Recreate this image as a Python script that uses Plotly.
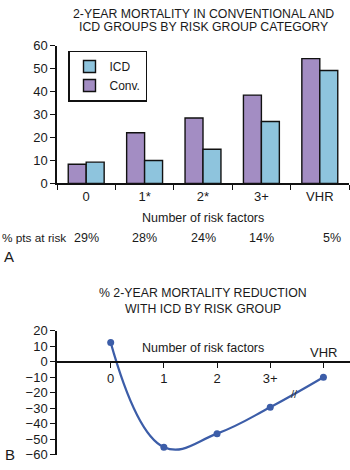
import plotly.graph_objects as go

W, H = 350, 470
FONT = "Liberation Sans, Arial, sans-serif"

# ---- Panel A data ----
categories = ["0", "1*", "2*", "3+", "VHR"]
conv_values = [8.4, 22.1, 28.5, 38.5, 54.4]
icd_values = [9.3, 10.0, 14.9, 27.0, 49.2]
pct_at_risk = ["29%", "28%", "24%", "14%", "5%"]

# ---- Panel B data ----
risk_x = [0, 1, 2, 3, 4]
risk_labels = ["0", "1", "2", "3+", "VHR"]
reduction = [12.3, -55.0, -46.3, -29.3, -10.0]

PURPLE = "#A38DC3"
BLUE = "#8EC4DD"
LINE = "#3C5DA8"
TXT = "#1a1a1a"


def py(p):
    return 1 - p / H


def px(p):
    return p / W


fig = go.Figure()

fig.add_trace(go.Bar(
    x=categories, y=conv_values, name="Conv.",
    marker=dict(color=PURPLE, line=dict(color="#111", width=1.4)),
    xaxis="x", yaxis="y",
))
fig.add_trace(go.Bar(
    x=categories, y=icd_values, name="ICD",
    marker=dict(color=BLUE, line=dict(color="#111", width=1.4)),
    xaxis="x", yaxis="y",
))

fig.add_trace(go.Scatter(
    x=risk_x, y=reduction, mode="lines+markers",
    line=dict(color=LINE, width=2.2, shape="spline", smoothing=1.2),
    marker=dict(color=LINE, size=7),
    showlegend=False, xaxis="x2", yaxis="y2",
))

axis_font = dict(family=FONT, size=13, color=TXT)

fig.update_layout(
    width=W, height=H,
    margin=dict(l=0, r=0, t=0, b=0),
    paper_bgcolor="white", plot_bgcolor="white",
    font=dict(family=FONT, size=13, color=TXT),
    barmode="group", bargap=0.385, bargroupgap=0,
    showlegend=True,
    legend=dict(
        x=px(68), y=py(45), xanchor="left", yanchor="top",
        bordercolor="#111", borderwidth=1.5,
        traceorder="reversed",
        font=dict(family=FONT, size=12, color=TXT),
        itemwidth=30, tracegroupgap=0,
    ),
    xaxis=dict(
        domain=[px(57), px(349)], anchor="y",
        type="category", range=[-0.5, 4.5],
        showline=True, linecolor="#111", linewidth=1.5,
        ticks="outside", ticklen=5, tickcolor="#111", tickwidth=1,
        tickson="boundaries",
        showgrid=False, tickfont=axis_font,
    ),
    yaxis=dict(
        domain=[py(182.3), py(40)], anchor="x",
        range=[0, 60], tickvals=[0, 10, 20, 30, 40, 50, 60],
        showline=True, linecolor="#111", linewidth=1.5,
        ticks="outside", ticklen=5, tickcolor="#111", tickwidth=1,
        showgrid=False, zeroline=False, tickfont=axis_font,
    ),
    xaxis2=dict(
        domain=[px(57), 1], anchor="free", position=py(366.7),
        range=[-1.01, 4.5], tickvals=risk_x,
        ticktext=risk_labels[:4] + [""],
        showline=True, linecolor="#111", linewidth=1.5,
        ticks="outside", ticklen=5, tickcolor="#111", tickwidth=1,
        showgrid=False, zeroline=False, tickfont=axis_font,
    ),
    yaxis2=dict(
        domain=[py(462.7), py(334.3)], anchor="x2",
        range=[-60, 20], tickvals=[-60, -50, -40, -30, -20, -10, 0, 10, 20],
        showline=True, linecolor="#111", linewidth=1.5,
        ticks="outside", ticklen=5, tickcolor="#111", tickwidth=1,
        showgrid=False, zeroline=False, tickfont=axis_font,
    ),
)

ann = []


def txt(text, x, y, size=12.5, xanchor="center", xref="paper", yref="paper", **kw):
    ann.append(dict(text=text, x=x, y=y, xref=xref, yref=yref,
                    xanchor=xanchor, yanchor="middle", showarrow=False,
                    font=dict(family=FONT, size=size, color=kw.pop("color", TXT)), **kw))


txt("2-YEAR MORTALITY IN CONVENTIONAL AND", px(203), py(7), size=12.3)
txt("ICD GROUPS BY RISK GROUP CATEGORY", px(203), py(20.5), size=12.3)
txt("Number of risk factors", px(203), py(218))
txt("% pts at risk", 0, py(239), size=11.8, xanchor="left")
for i, (c, p) in enumerate(zip(categories, pct_at_risk)):
    txt(p, c, py(239), xref="x", xshift=(12 if i == 4 else 0))
txt("A", px(2), py(258), size=15, xanchor="left")

txt("% 2-YEAR MORTALITY REDUCTION", px(203), py(295), size=12.3)
txt("WITH ICD BY RISK GROUP", px(203), py(311.5), size=12.3)
txt("Number of risk factors", px(203), py(352.7))
txt(risk_labels[4], risk_x[4], py(357), size=13, xref="x2")
txt("//", 3.46, -20.5, size=11, xref="x2", yref="y2", color="#333")
txt("B", px(3), py(462), size=15, xanchor="left")

fig.update_layout(annotations=ann)

fig.write_html("out.html")
